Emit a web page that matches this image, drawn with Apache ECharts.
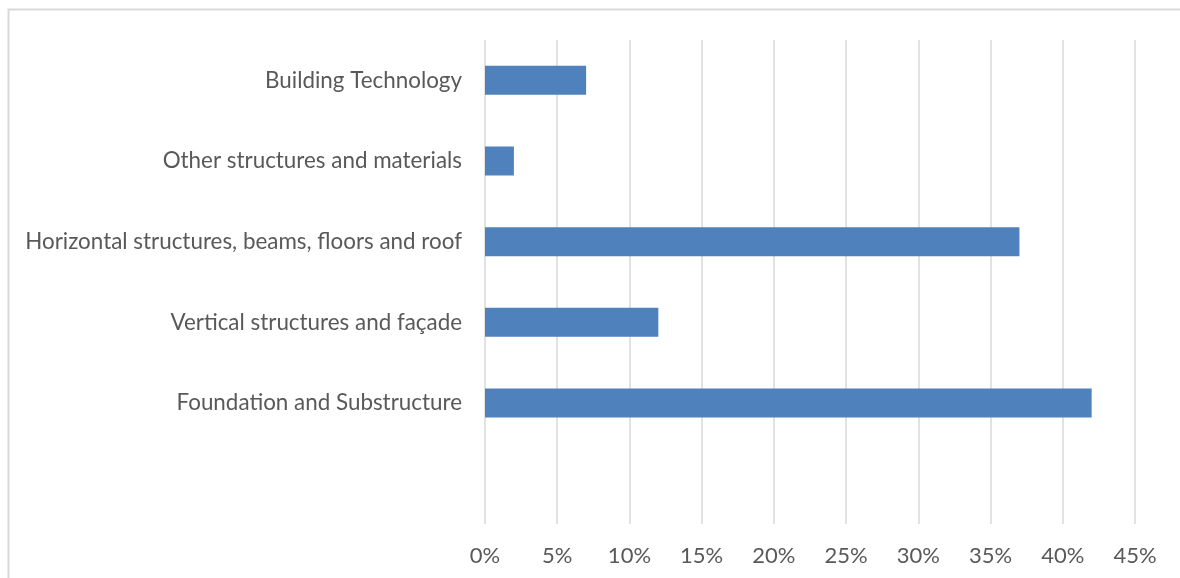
<!DOCTYPE html>
<html>
<head>
<meta charset="utf-8">
<script src="https://cdn.jsdelivr.net/npm/echarts@6/dist/echarts.min.js"></script>
<style>html,body{margin:0;padding:0;background:#fff}#c{width:1180px;height:578px}</style>
</head>
<body>
<div id="c"></div>
<script>
const categories = ["", "Foundation and Substructure", "Vertical structures and façade", "Horizontal structures, beams, floors and roof", "Other structures and materials", "Building Technology"];
const values = [null, 42, 12, 37, 2, 7];
const xTicks = [0, 5, 10, 15, 20, 25, 30, 35, 40, 45];

const chart = echarts.init(document.getElementById('c'), null, {renderer: 'canvas'});
const font = 'Lato, sans-serif';
chart.setOption({
  animation: false,
  graphic: [{type: 'rect', shape: {x: 8.5, y: 9.5, width: 1200, height: 600}, style: {fill: 'none', stroke: '#d9d9d9', lineWidth: 2}, silent: true}],
  grid: {left: 485, right: 45, top: 40, bottom: 54, containLabel: false},
  xAxis: {
    type: 'value', min: 0, max: 45, interval: 5,
    axisLine: {show: false}, axisTick: {show: false},
    splitLine: {show: true, lineStyle: {color: '#d9d9d9', width: 1.5}},
    axisLabel: {formatter: v => xTicks.includes(v) ? v + '%' : '', color: '#595959', fontFamily: font, fontSize: 22, margin: 21}
  },
  yAxis: {
    type: 'category', data: categories,
    axisLine: {show: false}, axisTick: {show: false},
    axisLabel: {color: '#595959', fontFamily: font, fontSize: 22.4, margin: 23}
  },
  series: [{type: 'bar', data: values, barWidth: 29, itemStyle: {color: '#4f81bd'}}]
});
</script>
</body>
</html>
